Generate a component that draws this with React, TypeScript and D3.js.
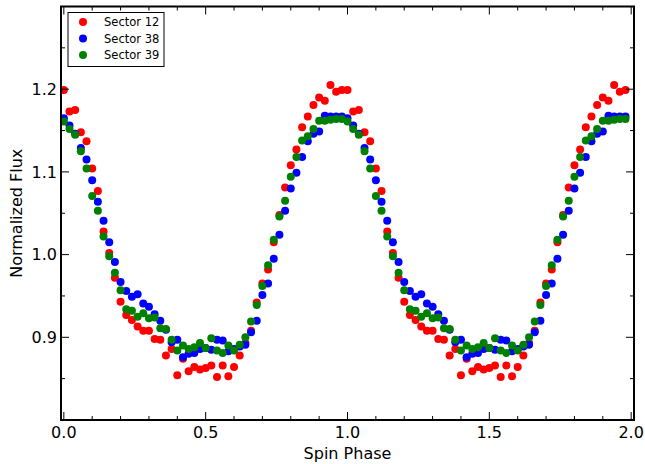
import * as d3 from 'd3';

// phase bins (one cycle, plotted twice)
const phases = [
  0.00, 0.02, 0.04, 0.06, 0.08, 0.10, 0.12, 0.14, 0.16, 0.18,
  0.20, 0.22, 0.24, 0.26, 0.28, 0.30, 0.32, 0.34, 0.36, 0.38,
  0.40, 0.42, 0.44, 0.46, 0.48, 0.50, 0.52, 0.54, 0.56, 0.58,
  0.60, 0.62, 0.64, 0.66, 0.68, 0.70, 0.72, 0.74, 0.76, 0.78,
  0.80, 0.82, 0.84, 0.86, 0.88, 0.90, 0.92, 0.94, 0.96, 0.98,
];

const sector12 = [
  1.199, 1.173, 1.175, 1.148, 1.137, 1.104, 1.077, 1.028, 1.002, 0.972,
  0.943, 0.927, 0.921, 0.913, 0.908, 0.908, 0.898, 0.897, 0.878, 0.886,
  0.854, 0.874, 0.859, 0.864, 0.861, 0.863, 0.866, 0.852, 0.866, 0.853,
  0.864, 0.878, 0.893, 0.908, 0.942, 0.965, 0.982, 1.015, 1.048, 1.081,
  1.108, 1.127, 1.154, 1.167, 1.181, 1.190, 1.186, 1.205, 1.197, 1.199,
];

const sector38 = [
  1.165, 1.156, 1.146, 1.129, 1.115, 1.090, 1.064, 1.041, 1.015, 0.991,
  0.967, 0.956, 0.949, 0.952, 0.941, 0.937, 0.928, 0.920, 0.909, 0.894,
  0.897, 0.876, 0.880, 0.881, 0.886, 0.887, 0.885, 0.897, 0.896, 0.883,
  0.886, 0.889, 0.891, 0.906, 0.920, 0.951, 0.965, 0.995, 1.024, 1.053,
  1.080, 1.099, 1.118, 1.137, 1.146, 1.149, 1.168, 1.167, 1.167, 1.167,
];

const sector39 = [
  1.161, 1.152, 1.145, 1.125, 1.104, 1.071, 1.053, 1.022, 0.998, 0.978,
  0.957, 0.934, 0.932, 0.925, 0.929, 0.923, 0.924, 0.911, 0.910, 0.897,
  0.884, 0.890, 0.886, 0.888, 0.893, 0.887, 0.899, 0.884, 0.881, 0.890,
  0.884, 0.891, 0.900, 0.919, 0.939, 0.962, 0.987, 1.018, 1.046, 1.065,
  1.094, 1.118, 1.138, 1.143, 1.152, 1.162, 1.162, 1.163, 1.164, 1.164,
];

const cycles = [0, 1];
const xMajor = [0, 0.5, 1.0, 1.5, 2.0];
const xMinor = [0.1, 0.2, 0.3, 0.4, 0.6, 0.7, 0.8, 0.9, 1.1, 1.2, 1.3, 1.4, 1.6, 1.7, 1.8, 1.9];
const yMajor = [0.9, 1.0, 1.1, 1.2];
const yMinor = [0.85, 0.95, 1.05, 1.15, 1.25];

const series = [
  { name: 'Sector 12', color: '#ff0000', values: sector12 },
  { name: 'Sector 38', color: '#0000ff', values: sector38 },
  { name: 'Sector 39', color: '#008000', values: sector39 },
];

const W = 645;
const H = 464;
const L = 61, R = 634, T = 6.5, B = 420;
const FONT = 'DejaVu Sans, sans-serif';

export default function App() {
  const x = d3.scaleLinear().domain([-0.01, 2.01]).range([L, R]);
  const y = d3.scaleLinear().domain([0.8, 1.3]).range([B, T]);

  const tick = (v: number, len: number, key: string) => (
    <g key={key}>
      <line x1={x(v)} x2={x(v)} y1={B} y2={B - len} />
      <line x1={x(v)} x2={x(v)} y1={T} y2={T + len} />
    </g>
  );
  const ytick = (v: number, len: number, key: string) => (
    <g key={key}>
      <line x1={L} x2={L + len} y1={y(v)} y2={y(v)} />
      <line x1={R} x2={R - len} y1={y(v)} y2={y(v)} />
    </g>
  );

  return (
    <div style={{ position: 'fixed', left: 0, top: 0 }}>
      <svg width={W} height={H} style={{ display: 'block', background: '#fff' }} fontFamily={FONT}>
        <defs>
          <clipPath id="plot">
            <rect x={L} y={T} width={R - L} height={B - T} />
          </clipPath>
        </defs>

        <g clipPath="url(#plot)">
          {series.map(s => (
            <g key={s.name} fill={s.color}>
              {cycles.map(c =>
                s.values.map((v, i) => (
                  <circle key={c + '-' + i} cx={x(phases[i] + c)} cy={y(v)} r={4} />
                ))
              )}
            </g>
          ))}
        </g>

        {/* ticks */}
        <g stroke="#000" strokeWidth={1}>
          {xMajor.map((v, i) => tick(v, 8, 'xM' + i))}
          {xMinor.map((v, i) => tick(v, 4, 'xm' + i))}
          {yMajor.map((v, i) => ytick(v, 8, 'yM' + i))}
          {yMinor.map((v, i) => ytick(v, 4, 'ym' + i))}
        </g>

        <rect x={L} y={T} width={R - L} height={B - T} fill="none" stroke="#000" strokeWidth={2} />

        {/* tick labels */}
        <g fontSize={16} fill="#000">
          {xMajor.map(v => (
            <text key={'xl' + v} x={x(v)} y={438} textAnchor="middle">{v.toFixed(1)}</text>
          ))}
          {yMajor.map(v => (
            <text key={'yl' + v} x={57} y={y(v) + 5.8} textAnchor="end">{v.toFixed(1)}</text>
          ))}
        </g>

        <text x={(L + R) / 2} y={459} textAnchor="middle" fontSize={16}>Spin Phase</text>
        <text transform={`translate(22,${(T + B) / 2}) rotate(-90)`} textAnchor="middle" fontSize={16}>Normalized Flux</text>

        {/* legend */}
        <rect x={68} y={12.5} width={96} height={54} fill="#fff" stroke="#000" strokeWidth={1} />
        {series.map((s, i) => (
          <g key={'lg' + s.name} transform={`translate(0,${22 + i * 16.5})`}>
            <circle cx={83} cy={0} r={4} fill={s.color} />
            <text x={104} y={4} fontSize={11.5}>{s.name}</text>
          </g>
        ))}
      </svg>
    </div>
  );
}
